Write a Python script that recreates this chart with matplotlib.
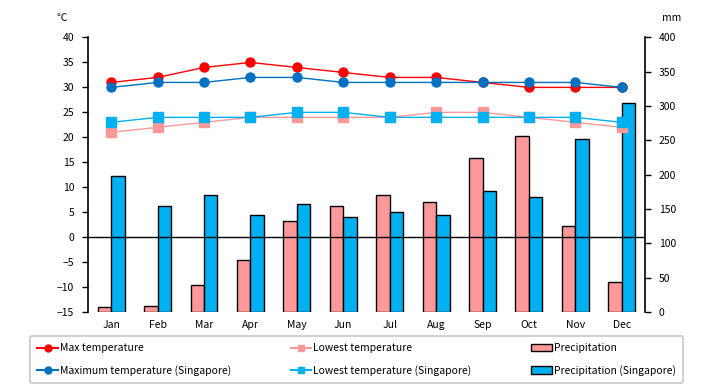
import matplotlib.pyplot as plt
import numpy as np
from matplotlib.lines import Line2D
from matplotlib.patches import Patch

plt.rcParams['font.family'] = ['Noto Sans CJK JP', 'DejaVu Sans']
plt.rcParams['font.size'] = 7.5

months = ['Jan', 'Feb', 'Mar', 'Apr', 'May', 'Jun', 'Jul', 'Aug', 'Sep', 'Oct', 'Nov', 'Dec']
max_temp = [31, 32, 34, 35, 34, 33, 32, 32, 31, 30, 30, 30]
low_temp = [21, 22, 23, 24, 24, 24, 24, 25, 25, 24, 23, 22]
max_temp_sg = [30, 31, 31, 32, 32, 31, 31, 31, 31, 31, 31, 30]
low_temp_sg = [23, 24, 24, 24, 25, 25, 24, 24, 24, 24, 24, 23]
precip = [7, 9, 40, 76, 133, 155, 171, 160, 224, 257, 126, 44]
precip_sg = [198, 154, 171, 141, 158, 139, 145, 142, 177, 167, 252, 304]

c_red = '#FF0000'
c_pink = '#FF9999'
c_blue = '#0070C0'
c_cyan = '#00B0F0'

fig = plt.figure(figsize=(7.2, 3.85), dpi=100)
ax = fig.add_axes([0.1222, 0.1896, 0.7736, 0.7130])
ax2 = ax.twinx()

x = np.arange(len(months))
w = 0.29

# bars on the right (mm) axis, drawn behind the lines
ax2.bar(x - w / 2, precip, w, color=c_pink, edgecolor='black', linewidth=1, zorder=1)
ax2.bar(x + w / 2, precip_sg, w, color=c_cyan, edgecolor='black', linewidth=1, zorder=1)
ax2.set_ylim(0, 400)
ax2.set_yticks(range(0, 401, 50))

ax.set_zorder(2)
ax.patch.set_visible(False)
ax2.set_zorder(1)
ax2.patch.set_facecolor('#FFFFCC')

ax.axhline(0, color='black', linewidth=1, zorder=1)
ax.plot(x, low_temp, color=c_pink, marker='s', markersize=6.5, linewidth=1, zorder=3)
ax.plot(x, low_temp_sg, color=c_cyan, marker='s', markersize=6.5, linewidth=1, zorder=3)
ax.plot(x, max_temp, color=c_red, marker='o', markersize=6.5, linewidth=1, zorder=4)
ax.plot(x, max_temp_sg, color=c_blue, marker='o', markersize=6.5, linewidth=1, zorder=4)

ax.set_ylim(-15, 40)
ax.set_yticks(range(-15, 41, 5))
ax.set_xlim(-0.5, 11.5)
ax.set_xticks(x)
ax.set_xticklabels(months)

for a in (ax, ax2):
    a.spines['top'].set_visible(False)
    a.spines['bottom'].set_visible(False)
ax.spines['right'].set_visible(False)
ax2.spines['left'].set_visible(False)
ax.spines['left'].set_linewidth(1.2)
ax2.spines['right'].set_linewidth(1.2)
ax.tick_params(axis='x', length=0, pad=6)
ax.tick_params(axis='y', direction='out', length=4, width=1, pad=6)
ax2.tick_params(axis='y', direction='out', length=4, width=1, pad=6)

fig.text(0.086, 0.952, '℃', ha='center', va='center')
fig.text(0.933, 0.952, 'mm', ha='center', va='center')

handles = [
    Line2D([], [], color=c_red, marker='o', markersize=5),
    Line2D([], [], color=c_blue, marker='o', markersize=5),
    Line2D([], [], color=c_pink, marker='s', markersize=5),
    Line2D([], [], color=c_cyan, marker='s', markersize=5),
    Patch(facecolor=c_pink, edgecolor='black'),
    Patch(facecolor=c_cyan, edgecolor='black'),
]
labels = ['Max temperature', 'Maximum temperature (Singapore)',
          'Lowest temperature', 'Lowest temperature (Singapore)',
          'Precipitation', 'Precipitation (Singapore)']
leg = fig.legend(handles, labels, ncol=3, loc='lower left',
                 bbox_to_anchor=(30 / 720, 2 / 385, 653 / 720, 50 / 385), mode='expand',
                 frameon=True, fancybox=True, edgecolor='#BBBBBB', handlelength=2.0,
                 handletextpad=0.2, columnspacing=1.0, labelspacing=1.1,
                 borderpad=0.7, borderaxespad=0, fontsize=7.5)
leg.get_frame().set_linewidth(1.2)

fig.savefig('out.png', dpi=100)
